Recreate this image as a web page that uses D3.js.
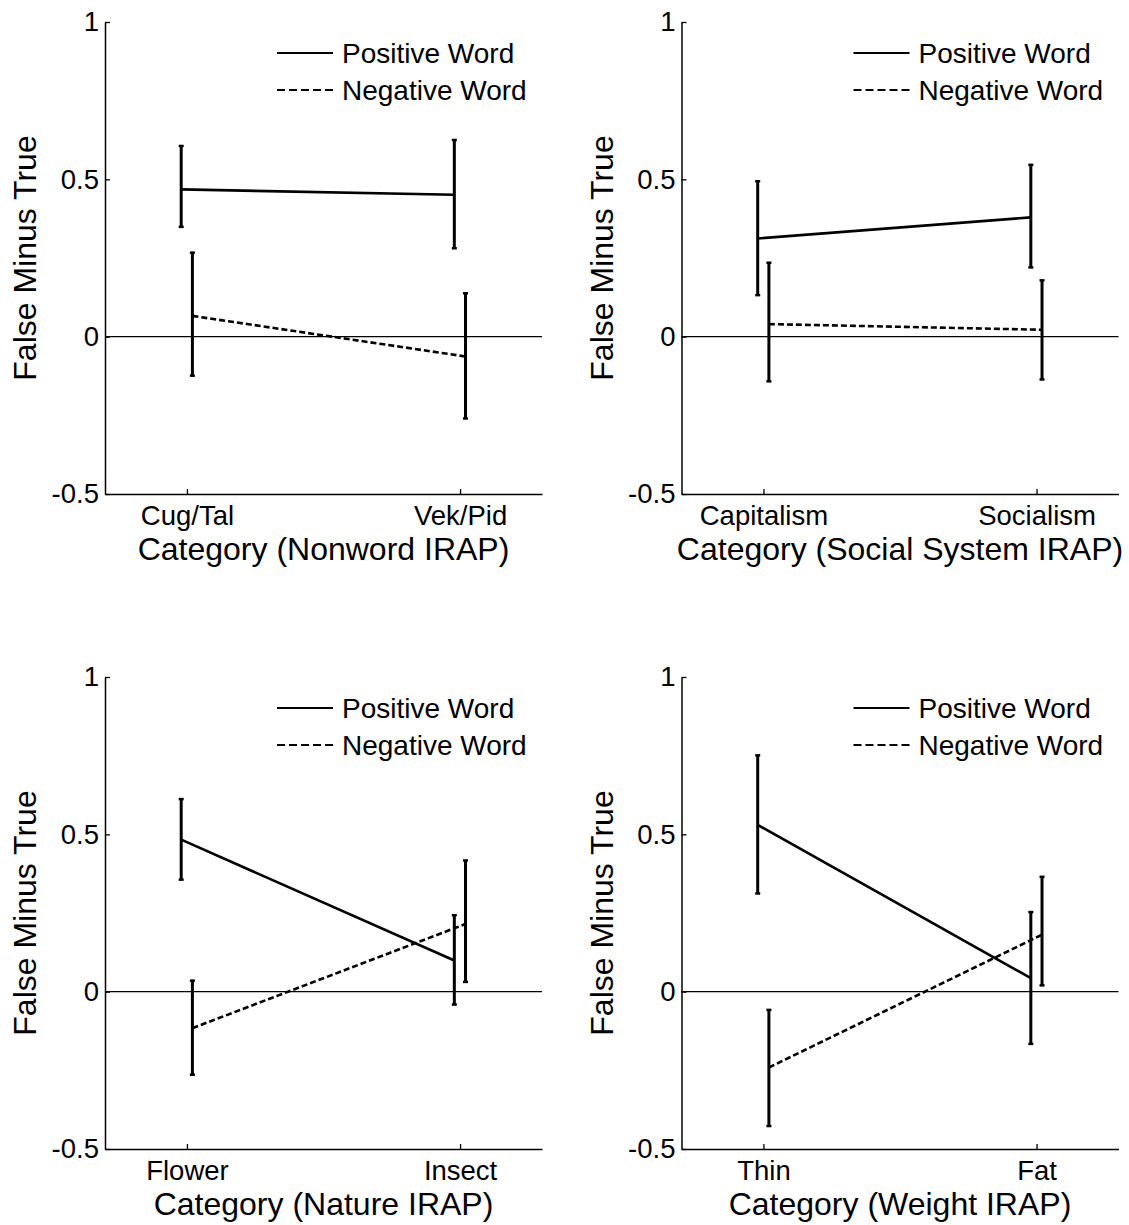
<!DOCTYPE html>
<html>
<head>
<meta charset="utf-8">
<script src="https://cdn.jsdelivr.net/npm/d3@7"></script>
<style>
  body { margin: 0; background: #fff; }
  text { font-family: "Liberation Sans", Arial, sans-serif; fill: #000; }
</style>
</head>
<body>
<div id="chart"></div>
<script>
// values
const seriesNames = ["Positive Word", "Negative Word"];
const yTicks = [-0.5, 0, 0.5, 1];

const nonwordCats = ["Cug/Tal", "Vek/Pid"];
const nonwordPos = [0.468, 0.451];
const nonwordPosLow = [0.349, 0.281];
const nonwordPosHigh = [0.606, 0.625];
const nonwordNeg = [0.066, -0.063];
const nonwordNegLow = [-0.124, -0.26];
const nonwordNegHigh = [0.267, 0.138];

const socialCats = ["Capitalism", "Socialism"];
const socialPos = [0.312, 0.379];
const socialPosLow = [0.132, 0.22];
const socialPosHigh = [0.494, 0.546];
const socialNeg = [0.04, 0.022];
const socialNegLow = [-0.142, -0.136];
const socialNegHigh = [0.235, 0.179];

const natureCats = ["Flower", "Insect"];
const naturePos = [0.483, 0.099];
const naturePosLow = [0.356, -0.041];
const naturePosHigh = [0.612, 0.243];
const natureNeg = [-0.116, 0.215];
const natureNegLow = [-0.264, 0.031];
const natureNegHigh = [0.035, 0.417];

const weightCats = ["Thin", "Fat"];
const weightPos = [0.53, 0.043];
const weightPosLow = [0.312, -0.166];
const weightPosHigh = [0.751, 0.253];
const weightNeg = [-0.241, 0.181];
const weightNegLow = [-0.427, 0.02];
const weightNegHigh = [-0.058, 0.365];

const panels = [
  { cats: nonwordCats, label: "Category (Nonword IRAP)", left: 105, top: 22,
    series: [[nonwordPos, nonwordPosLow, nonwordPosHigh], [nonwordNeg, nonwordNegLow, nonwordNegHigh]] },
  { cats: socialCats, label: "Category (Social System IRAP)", left: 681.5, top: 22,
    series: [[socialPos, socialPosLow, socialPosHigh], [socialNeg, socialNegLow, socialNegHigh]] },
  { cats: natureCats, label: "Category (Nature IRAP)", left: 105, top: 677,
    series: [[naturePos, naturePosLow, naturePosHigh], [natureNeg, natureNegLow, natureNegHigh]] },
  { cats: weightCats, label: "Category (Weight IRAP)", left: 681.5, top: 677,
    series: [[weightPos, weightPosLow, weightPosHigh], [weightNeg, weightNegLow, weightNegHigh]] }
];

const W = 437, H = 472;
const offsets = [-0.021, 0.02];
const dashes = [null, "6,3"];

const svg = d3.select("#chart").append("svg")
  .attr("width", 1129)
  .attr("height", 1225);

const x = d3.scaleLinear().domain([0.7, 2.3]).range([0, W]);
const y = d3.scaleLinear().domain([-0.5, 1]).range([H, 0]);

panels.forEach(p => {
  const g = svg.append("g").attr("transform", `translate(${p.left},${p.top})`);

  // zero line
  g.append("line")
    .attr("x1", 0).attr("x2", W)
    .attr("y1", y(0)).attr("y2", y(0))
    .attr("stroke", "#000").attr("stroke-width", 1.2);

  const yAxis = g.append("g")
    .call(d3.axisLeft(y).tickValues(yTicks).tickSize(-5).tickSizeOuter(0).tickPadding(6).tickFormat(d => String(d)));
  yAxis.selectAll("text").attr("font-size", 27.5).attr("font-family", null);

  const xAxis = g.append("g")
    .attr("transform", `translate(0,${H})`)
    .call(d3.axisBottom(x).tickValues([1, 2]).tickSize(-5).tickSizeOuter(0).tickFormat(d => p.cats[d - 1]));
  xAxis.selectAll("text").attr("font-size", 27.5).attr("font-family", null).attr("y", 31).attr("dy", 0);

  [yAxis, xAxis].forEach(a => {
    a.select(".domain").attr("stroke-width", 1.5);
    a.selectAll(".tick line").attr("stroke-width", 1.3);
  });

  g.append("text")
    .attr("transform", `translate(-69,${H / 2}) rotate(-90)`)
    .attr("text-anchor", "middle")
    .attr("font-size", 32)
    .text("False Minus True");

  g.append("text")
    .attr("x", W / 2)
    .attr("y", H + 66)
    .attr("text-anchor", "middle")
    .attr("font-size", 32)
    .text(p.label);

  // series
  p.series.forEach((s, si) => {
    const [mean, lo, hi] = s;
    const pts = mean.map((m, i) => ({ cx: x(i + 1 + offsets[si]), m: m, lo: lo[i], hi: hi[i] }));

    g.append("path")
      .datum(pts)
      .attr("fill", "none")
      .attr("stroke", "#000")
      .attr("stroke-width", 2.6)
      .attr("stroke-dasharray", dashes[si])
      .attr("d", d3.line().x(d => d.cx).y(d => y(d.m)));

    const eb = g.selectAll(null).data(pts).enter().append("g");
    eb.append("line")
      .attr("x1", d => d.cx).attr("x2", d => d.cx)
      .attr("y1", d => y(d.lo)).attr("y2", d => y(d.hi))
      .attr("stroke", "#000").attr("stroke-width", 3);
    eb.append("line")
      .attr("x1", d => d.cx - 2.5).attr("x2", d => d.cx + 2.5)
      .attr("y1", d => y(d.lo)).attr("y2", d => y(d.lo))
      .attr("stroke", "#000").attr("stroke-width", 2.5);
    eb.append("line")
      .attr("x1", d => d.cx - 2.5).attr("x2", d => d.cx + 2.5)
      .attr("y1", d => y(d.hi)).attr("y2", d => y(d.hi))
      .attr("stroke", "#000").attr("stroke-width", 2.5);
  });

  // legend
  const leg = g.append("g").attr("transform", "translate(172,31)");
  seriesNames.forEach((name, i) => {
    leg.append("line")
      .attr("x1", 0).attr("x2", 56)
      .attr("y1", i * 37).attr("y2", i * 37)
      .attr("stroke", "#000").attr("stroke-width", 2)
      .attr("stroke-dasharray", i === 1 ? "8,4" : null);
    leg.append("text")
      .attr("x", 65)
      .attr("y", i * 37 + 10)
      .attr("font-size", 28)
      .text(name);
  });
});
</script>
</body>
</html>
